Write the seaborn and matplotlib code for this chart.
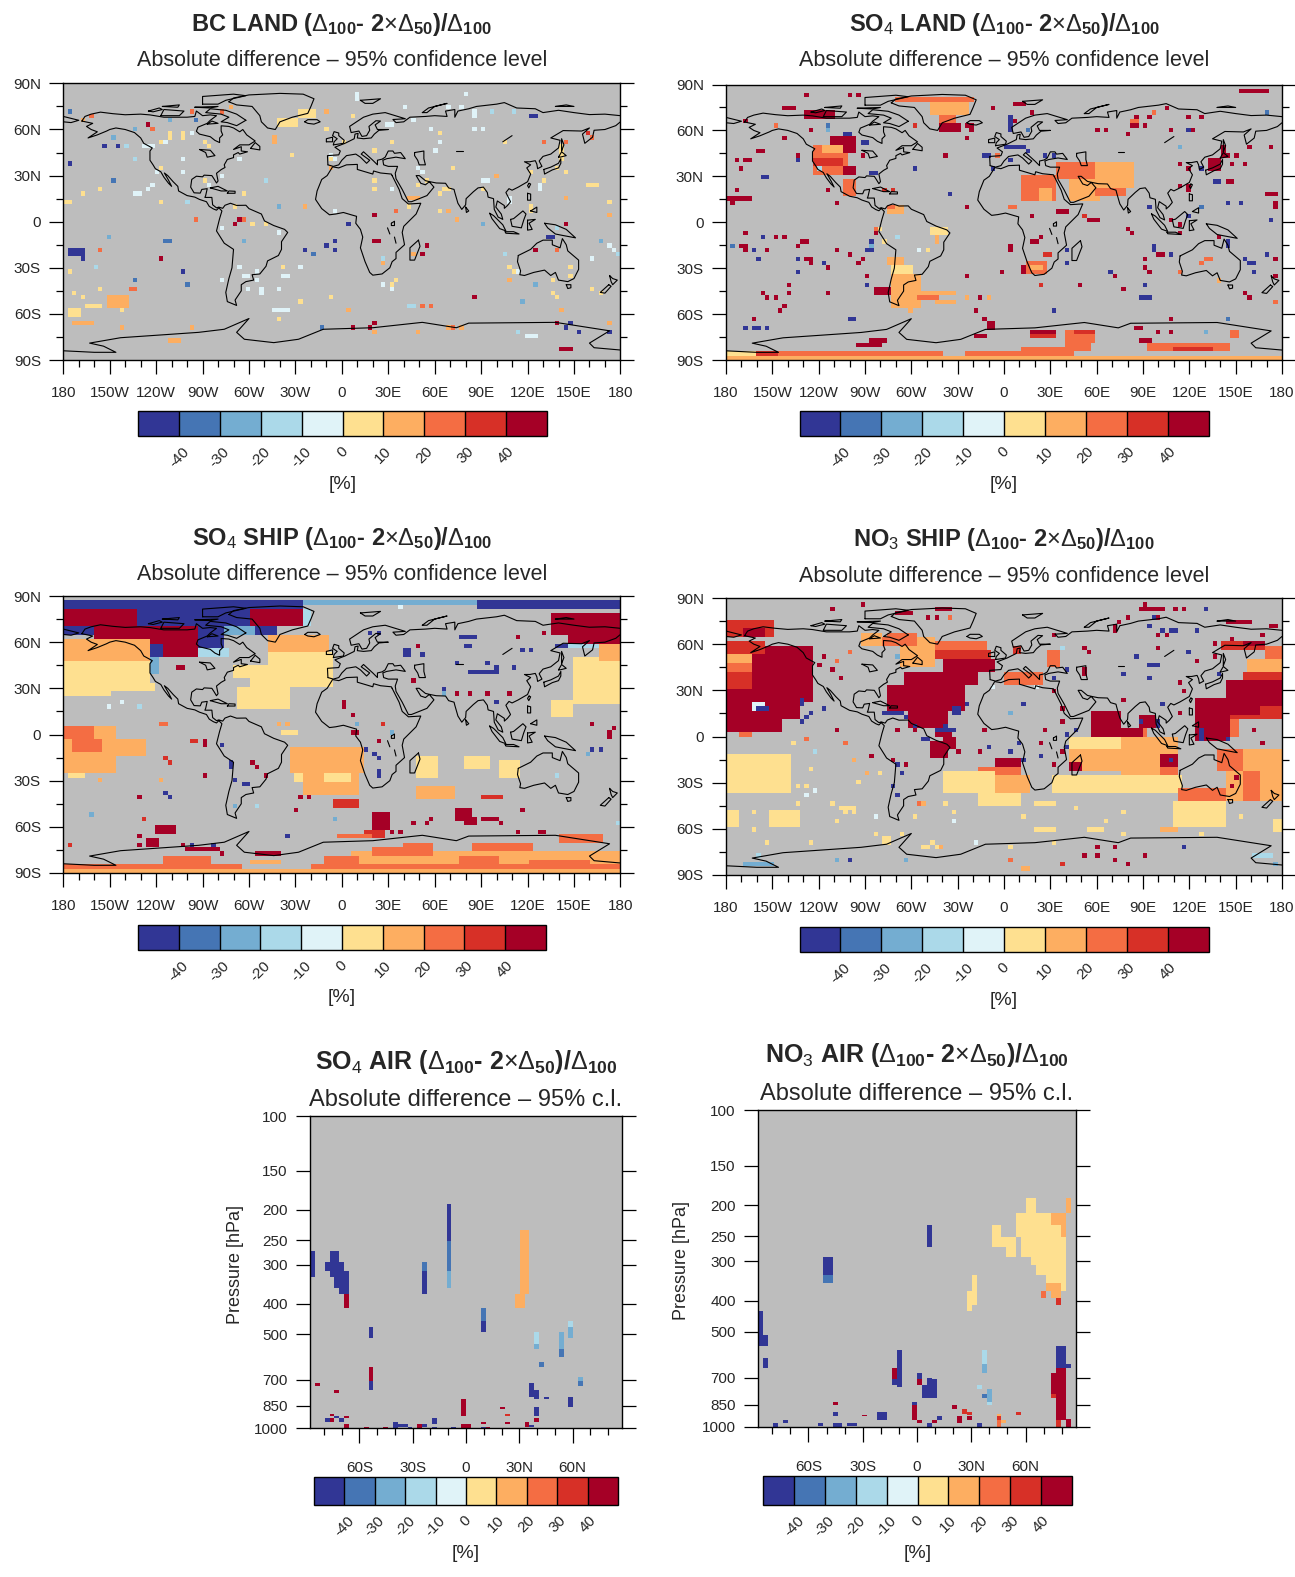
import numpy as np
import pandas as pd
import matplotlib
matplotlib.use("Agg")
import matplotlib.pyplot as plt
import seaborn as sns
from matplotlib.cm import ScalarMappable
from matplotlib.colors import BoundaryNorm, ListedColormap

# percent classes (class midpoints are stored in the cell lists)
level_bounds = [-50, -40, -30, -20, -10, 0, 10, 20, 30, 40, 50]
level_colors = ["#313695", "#4575b4", "#74add1", "#abd9e9", "#e0f3f8",
                "#fee090", "#fdae61", "#f46d43", "#d73027", "#a50026"]
level_ticks = [-40, -30, -20, -10, 0, 10, 20, 30, 40]

# coastlines, (lon, lat)
coast_america = [(-168,65.5),(-166,68.5),(-162,70),(-156,71.3),(-148,70.3),(-140,69.6),(-130,70),(-124,69.5),(-115,68),(-108,68),(-100,68),(-95,68.5),(-94,72),(-90,69),(-85,69.5),(-81,69),(-85,66),(-87,64),(-93,61.5),(-94,58.8),(-92,57),(-85,55.3),(-82,52.9),(-79,51.5),(-79,54.5),(-77,56.5),(-78,59),(-78,62.4),(-73,62),(-70,61),(-66,58.5),(-64,60),(-61.5,56.5),(-56,52.5),(-60,50),(-66,50),(-70,47),(-65,48.8),(-65,46),(-61,45.5),(-66,44),(-67,45),(-70,43.5),(-70,41.7),(-74,40.5),(-76,37),(-75.5,35.3),(-78,33.9),(-81,31.5),(-80,26.5),(-81,25.2),(-82.7,28),(-84,30),(-89,30.3),(-90,29.2),(-94,29.6),(-97,27.5),(-97.7,22.5),(-95.5,18.8),(-91.5,18.6),(-90.5,21),(-87,21.5),(-88,17),(-88.5,15.8),(-84,15.8),(-83.5,11),(-81,9),(-79.5,9.5),(-77,8.7),(-75.5,10.7),(-72,12),(-68,10.6),(-62,10.7),(-60,8.5),(-52,5),(-50,0.5),(-44,-2.5),(-37,-5),(-35,-7),(-39,-13),(-39,-18),(-41,-22),(-48,-25.5),(-49,-29),(-53,-34),(-58,-34.5),(-57,-38),(-62,-39),(-65,-41),(-65,-45),(-69,-51),(-68,-54.5),(-74,-52),(-75,-46),(-73,-37),(-71,-30),(-70,-18),(-76,-14),(-81,-6),(-80,-2),(-79,2),(-77.5,7),(-79.5,9),(-81,7.5),(-83,8.3),(-85.7,10),(-87.5,13),(-92,14.5),(-95,16),(-100,17),(-105.5,20),(-106,23),(-109,26),(-112.5,30),(-114.7,31.7),(-112,27),(-110,23),(-112,25),(-115,29),(-117,32.5),(-120.5,34.5),(-122,37),(-124,40),(-124,46),(-122.5,48),(-128,51),(-130,54.5),(-134,58),(-140,60),(-146,61),(-150,60),(-152,59),(-158,56.5),(-164,54.5),(-158,58.5),(-162,60),(-165,62),(-161,64),(-168,65.5)]
coast_eurasia = [(-9,37),(-9.3,43),(-2,43.5),(-1,46),(-4.5,48.5),(2,51),(4,52),(8,54),(8.5,57),(10.5,57.5),(10,54.5),(14,54),(19,54.5),(21,57),(24,59.5),(30,60),(23,60),(21.5,63),(25,65.5),(22,65.7),(17.5,62),(18,59.5),(16,56),(13,55.5),(11,59),(6,58),(5,62),(14,68),(20,70),(28,71),(41,67),(33,66.5),(35,64.5),(40,65),(44,68),(54,68.5),(60,69),(68,68.5),(67,72),(73,73),(73,68),(75,72),(82,73.5),(87,75),(100,76.5),(105,77.5),(113,74),(125,73.5),(130,71),(140,72.5),(150,71),(160,69.7),(170,70),(180,69)]
coast_asia_east = [(180,65),(177,62.5),(170,60),(163,59.5),(162,55),(157,51),(155.5,57),(160,61),(155,59),(143,59.3),(135,54.5),(141,53),(140,48),(135,44),(130,42.5),(127.5,39.5),(129.3,36),(126.5,34.5),(126,37.5),(125,39.7),(121.5,39),(118,39),(122,37),(119.5,35),(122,31),(120,26),(114,22.5),(110,20.5),(108,21.5),(106,19),(109,13),(107,10.5),(105,8.7),(105,10.5),(102,12.5),(100.5,13.5),(99.5,9.5),(103,5),(104,1.5),(101,3),(98.5,8),(98,15),(94.5,16),(94,19),(91.5,22.5),(88,22),(85,19.5),(80.3,15),(80,11),(77.5,8),(75,12),(73,19),(72.5,21),(69,22),(67,25),(61,25.2),(57,26),(54,26.7),(50,30),(48,30),(51,25),(54,24),(56.5,26),(59.5,22.5),(55,17),(45,13),(43,13),(39,21),(35,28),(34.5,31.5),(36,36),(30,36),(27,37),(26.5,40),(29,41),(35,42),(41,41),(38,45),(34,44.5),(33,46),(30,46),(28,42),(26,40.7),(23,40),(23,37),(20,40),(14,45.5),(12.5,44),(18,40),(16,38),(12,42),(9,44),(3,43),(0,40),(-2,37),(-5.5,36),(-9,37)]
coast_chukchi = [(-180,68.5),(-170,66),(-175,64.5),(-180,65)]
coast_africa = [(32.5,30),(34,27),(37,21),(39,15),(43,11.5),(51,12),(48,5),(40,-3),(39,-7),(40.5,-15),(35,-20),(35,-24),(32.5,-26),(31,-30),(26,-34),(20,-34.8),(18,-33),(15,-26),(12,-17),(13.5,-10),(12,-5),(9,-1),(9.5,3.5),(6,4.5),(1,6),(-4,5),(-8,4.5),(-13,8.5),(-17,14.5),(-16,20),(-13,27.5),(-9.5,30),(-6,35.7),(-2,35),(3,37),(10,37.3),(10,34),(15,32.5),(20,31),(20.5,33),(25,31.7),(32,31),(32.5,30)]
coast_antarctica = [(-180,-84),(-160,-85),(-146,-85),(-154,-81),(-163,-79),(-143,-75.5),(-114,-73.5),(-92.5,-72),(-76,-70),(-60,-63),(-68,-72),(-63,-76.5),(-44,-78.7),(-28,-76.5),(-12,-70),(20,-69),(52,-65.5),(74,-69),(82,-66),(138,-65.5),(173,-71),(160,-79),(163,-82),(180,-83.5)]
coast_islands = [
    [(-73,78),(-68,76),(-58,75),(-53,69),(-52,65),(-48,61),(-43,60),(-40,65),(-32,68),(-22,70.5),(-20,75),(-18,80),(-25,83),(-40,83.5),(-60,82.5),(-70,80.5),(-73,78)],
    [(-62,66),(-68,62.5),(-74,64.5),(-78,65),(-73,68),(-78,70),(-88,71),(-85,73.5),(-75,72.5),(-68,70),(-62,66)],
    [(-90,76.5),(-80,76.5),(-75,79),(-62,82),(-70,83),(-90,81.5),(-90,76.5)],
    [(-117,69),(-105,69),(-102,72),(-115,73),(-117,69)],
    [(-125,72),(-118,74),(-116,73),(-122,71.5),(-125,72)],
    [(-95,74.5),(-80,75),(-85,74),(-95,74.5)],
    [(-116,75),(-105,76),(-106,74.5),(-116,75)],
    [(-87,63.5),(-80,64),(-84,65.5),(-87,63.5)],
    [(-59,47.7),(-53,46.7),(-53,49),(-56,51.5),(-59,47.7)],
    [(-85,22),(-80,23),(-74,20),(-78,20),(-85,22)],
    [(-74,18.5),(-69,18.5),(-69,19.8),(-73,20),(-74,18.5)],
    [(-24,65),(-22,64),(-18,63.5),(-14,65),(-16,66.4),(-22,66.4),(-24,65)],
    [(-5.5,50),(1,51),(1.5,53),(-2,56),(-2,57.7),(-5,58.6),(-6,56),(-3,54),(-5,52),(-5.5,50)],
    [(-10,52),(-6,52),(-6,55),(-10,54),(-10,52)],
    [(47,45),(53,46),(53,41),(54,37),(50,37),(49,40),(47,43),(47,45)],
    [(49.5,-12),(50.5,-16),(47,-25),(44,-25),(44,-17),(49.5,-12)],
    [(80,9.5),(82,7),(80.5,6),(80,9.5)],
    [(95.5,5.5),(98,4),(104,-2),(106,-6),(102,-4.5),(97,2),(95.5,5.5)],
    [(105.5,-6.5),(111,-6.5),(114.5,-8),(106,-7.5),(105.5,-6.5)],
    [(109,1.5),(111,2),(117,7),(119,5),(117.5,1),(116,-4),(110,-3),(109,1.5)],
    [(120,1),(125,1.5),(121,-1),(123,-5),(120,-5.5),(120,1)],
    [(131,-1),(138,-2),(145,-5),(151,-10.5),(143,-9),(138,-8),(133,-4),(131,-1)],
    [(120,18.5),(122,18),(122,14),(120,14),(120,18.5)],
    [(122,7),(126,9.5),(126,6),(122,7)],
    [(121,25),(122,24.5),(120.8,22),(120,23.5),(121,25)],
    [(130.5,34),(135,35.5),(140,38),(141.5,41),(141.5,38),(140,35),(136,33.7),(131,31),(130.5,34)],
    [(140,42),(142,45.5),(145,43),(141,42),(140,42)],
    [(142,46),(142,54),(143.5,50),(142,46)],
    [(114,-22),(113.5,-26),(115.5,-32),(115,-34.5),(118,-35),(124,-33),(131,-31.5),(135,-35),(138,-33),(140,-38),(146,-39),(150,-37),(153,-31),(153,-25),(146,-19),(145,-15),(142.5,-11),(141,-17),(136,-15),(136,-12),(130,-12),(126,-14),(122,-18),(114,-22)],
    [(145,-41),(148,-41),(148,-43),(146,-43.5),(145,-41)],
    [(173,-35),(175,-37),(178,-38),(175,-41),(174,-39),(173,-35)],
    [(172.5,-41),(174,-42),(170,-46.5),(167,-46),(172.5,-41)],
    [(12,79),(25,80),(20,77),(15,77),(12,79)],
    [(52,71),(56,74),(68,77),(60,75),(55,71),(52,71)],
    [(138,75),(145,76),(150,75),(138,75)],
    [(-92,47),(-85,46.5),(-82,43),(-87,42),(-88,45),(-92,47)],
    [(32,-1),(34,0.3),(34,-2.5),(32,-2.5),(32,-1)],
    [(29.5,-4),(31,-8)],[(34,-10),(35,-14)],[(104,52),(110,56)],[(74,46),(78,46)],
]

# BC LAND, significant cells: (lon0, lon1, lat0, lat1, percent), then single cells
bc_land_blocks = [(-128,-120,49,52,-5),(-113,-110,53,59,5),(-104,-100,53,58,5),(-146,-143,47,52,-45),(-46,-42,51,55,15),
    (-29,-18,67.5,72.5,5),(-43,-29,61.5,67.5,5),(27,35,61,64,-5),(-150,-145,26,28,-35),(-134,-129,18,20,-5),(-179,-173,12,14,5),
    (-97,-92,1,3,25),(43,51,14,17,15),(66,71,20,22,5),(91,96,26,28,-5),(106,108,10,16,-5),(121,123,6,12,5),(127,130,18.5,24,-5),
    (141,143,40,52,5),(158,167,23,25,5),(133.5,139,-10.5,-8.5,-45),(165,170,-13,-11,-25),(159,164,-24,-22,-5),(117,127,-74,-72,-5),
    (145,150,-66,-64,-45),(142,150,-82.5,-80.5,45),(19,24,-13,-11,45),(53,55,-18,-14,45),(-6,-3,-20,-17,-45),(-26,-24,-20,-17,-45),
    (-114,-109,-13,-11,-35),(-153,-148,-10.5,-8.5,-25),(-178,-174,-32,-30,5),(-137,-131,-44,-42,25),(-153,-139,-55,-47,15),
    (-167,-154,-57,-53,5),(-178,-168,-62,-57,5),(-173,-160,-66,-64,15),(-44,-35,-57,-55,-5),(-15,-10,-69,-67,-35),(-112,-103,-77,-75,15),
    (-38,-33,-35,-33,-5),(42,47,-55,-53,-15),(-178,-165,-23,-16,-45)]
bc_land_cells = {
    45: [(-124,63),(-65,1.5),(-68,-1),(20,4.5),(146,-1),(126.5,-17.5),(138,-65),(-116,-23),(51,-20),(87,-48),(8,-68),(17,-68),(20,-65)],
    35: [(160,57)],
    25: [(-161,69),(-121,60),(-98,71),(-76,71),(36,7),(-62,1.5),(130,52),(146,52),(163,55),(140,-17.5),(-155,-17.5),(53,-54),(59,-54),(73,-68)],
    15: [(-166,66),(-71,74),(-8.5,71),(-7,35),(-23,10),(70,7),(75,1.5),(101,30),(146,16),(174,4.5),(109,-37),(28,-26),(45,-20),(141,-59),(172,-65),(-141,-68),(3,-59),(22,-73),(50,-73),(-96,-68),(69,-68),(76,-68)],
    5: [(-135,60),(8,68.6),(-8.5,60),(62,57),(31,52),(20,46),(0,52),(-7,42),(-116,52),(-88,52),(-87,48),(-31,43),(-118,35),(-90,27),(-155,21),(-166,18.5),(-116,13),(-62,18.5),(-70,10),(-59,-1),(-48,-1),(-50,-1),(43,10),(62,18.5),(64,7),(20,21),(20,27),(50,24),(56,26),(90,21),(73,35),(132,27),(123,32),(140,35),(144,32.5),(104.5,52),(172,13),(149,-29),(109,-29),(112,-31),(137,-37),(148,-34),(137,-45),(140,-48),(163,-43),(168,-45),(-155,-43),(-172,-45),(-168,-48),(-143,-59),(-39,-29),(-28,-51),(-6,-48),(33,-40),(36,-37),(-42,-62)],
    -5: [(-65,41),(-102,41),(-120,32.5),(-102,32.5),(-78.5,30),(-121,24),(-124,21),(-87,24),(31,21),(48,35),(53,32.5),(60,46),(64,52),(-3,7),(-76,-3.5),(-40,-6),(-7,45),(-3,42),(59,60),(45.6,66),(11,81),(11,84),(81.5,82.5),(42,74),(70,74),(76,74),(84.5,71),(87,68.6),(87,60),(90,60),(174,-15),(176,-17),(-96,57),(-114,52),(113,-31),(-67,-29),(-60,-34),(-56,-31),(-54,-37),(-62,-34),(-76,-37),(-60,-43),(-51,-43),(-51,-46),(-42,-43),(-28,-29),(28,-40),(31,-43)],
    -15: [(-138,49),(-135,41),(-48,27),(-99,13),(-166,-25),(-160,-29),(106,-20),(139,-3.5),(178,-20),(28,-23),(113,-70.5),(98,71),(110,71)],
    -25: [(-149,54),(-110,66),(-42,10),(92.5,-1),(-62,-12),(-135,60),(118,-51),(124,-40)],
    -35: [(-93,66),(-177,71),(-135,-37),(-99,-40),(-17,-20)],
    -45: [(-152,49),(-175,38),(5,-1),(-3,-12),(-8.5,-15),(-166,-23),(-104,-31.5),(121,69),(124,69),(152,-70.5),(174,-73),(146,-68)],
}

# SO4 LAND
so4_land_blocks = [(-69,-21,79,81,25),(-48,-23,70,78,15),(-43,-30,65,70,25),(-43,-29,59,65,45),(-128,-109,68,74,45),(-143,-136,73,76,45),
    (-124,-101,31,50,25),(-118,-104,44,50,15),(-124,-104,36,41,35),(-112,-96,52,56,45),(-103,-95,46,50,45),(-104,-97,31,37,45),
    (-103,-96,16,28,25),(-77,-64,5,10,15),(-77,-70,8,10,25),(-49,-37,-8,-3,5),(-46,-42,-13,-8,15),(-52,-47,-21,-16,5),(-75,-64,-29,-22,15),
    (-72,-58,-35,-29,5),(-73,-53,-55,-35,15),(-53,-32,-47,-44,15),(-56,-42,-50,-47,25),(-45,-30,-54,-51,15),(-83,-73,-47,-42,45),
    (12,35,14,30,25),(22,30,14,22,15),(43,83,22,38,15),(35,59,29,40,25),(43,62,14,22,15),(60,78,16,22,25),(15,29,-34,-25,25),(18,25,-31,-28,15),
    (133,141,33,41,45),(141,143,42,50,45),(153,168,84,86,45),(-21,-11,-75,-72,45),(-12,-7,-69,-66,45),(16,33,-75,-71,35),(18,33,-71,-69,45),
    (38,60,-78,-71,25),(46,58,-72,-69,35),(38,55,-83,-78,25),(10,46,-86,-81,25),(86,97,-79,-75,45),(94,145,-85,-79,25),(110,135,-85,-82,35),
    (146,153,-76,-70,25),(-95,-78,-82,-80,45),(-88,-75,-79,-77,45),(-179,180,-90,-87,15),(-145,-85,-86,-84,25),(-85,-40,-87,-85,25),(-179,-147,-85,-84,35),
    (-25,10,-86,-85,25),(-179,-160,-87,-85,5),(-179,-163,14,16,45)]
so4_land_cells = {
    45: [(-129,82),(-99,82),(-93,82),(-168,66),(-141,55),(-124,60),(-91,43),(-133,43),(-172,40),(-166,40),(-164,40),(-159,46),(-157,46),(-169,35),(-172,21.5),(-177,13),(-107,13),(-113,21.5),(-166,-6.5),(-147,-9),(-141,-9),(-133,-15),(-131,-12),(-129,-12),(-152,-17),(-127,-23),(-124,-23),(-124,-26),(-115,-29),(-107,-17),(-101,-20),(-99,-20),(-91,-23),(-93,-26),(-90,-34),(-155,-45),(-152,-48),(-149,-48),(-138,-42),(-138,-45),(-138,-47),(-113,-45),(-141,-54),(-144,-59),(-163,-62),(-82,-7),(-23,55),(-37,44),(-20,60),(-20,62),(-23,63),(-6,74),(8,66),(6,77),(9,77),(12,77),(19,71),(-23,10),(18,4),(34,8),(37,8),(40,8),(54,2),(57,2),(60,2),(80,-5),(82,-7),(79,-3),(60,60),(67,60),(79,58),(83,63),(85,63),(87,68),(93,68),(90,63),(104.5,74),(107,60),(121,60),(120.5,68),(127,68),(171.5,85),(143,49),(160,49),(174,49),(151.5,43.6),(155,37.6),(149,37.6),(115,37.6),(120,35.5),(144,43.6),(145,27),(148,27),(120.5,24),(120.5,21),(115,24),(169,18),(172,18),(175,18),(177,14),(177,11),(109,2),(115,-1),(115,-6.5),(138,-10),(99.5,-20),(102,-20),(90,-23),(90,-29),(95.5,-32),(73,-34),(76,-43),(48,-40),(5,-16),(5,-18),(21,-12),(19,-12),(24.5,-9),(12,-29),(12,-32),(-0.5,-32),(-23,-34),(-17,-57),(-14,-62),(160,-48),(157,-45),(175,-34),(177,-23),(109,-64.5),(101,-73),(109,-73),(86,-70),(89,-70),(-15,-48),(-170,-15),(-168,-17),(-166,-15),(-168,-15)],
    35: [(-76,20),(-73,20),(-59,63),(23,-40),(29,-20),(27,-20),(52,4)],
    25: [(-147,63),(131,-23),(133,-23),(127,-26),(115,-32),(4,10),(6,10),(-84,-5),(-3,44),(175,-51),(176,-51),(96,71),(83,66),(85,66)],
    15: [(-60,-59),(-9,-48),(-23,-48),(139.5,-37)],
    5: [(-77,-13),(-79,-4)],
    -5: [(-56,-17)],
    -15: [(-68,-9),(-119,35)],
    -25: [(-113,60),(-85,-15),(112.5,49),(132,-73)],
    -35: [(-175,-15),(16,60),(171.5,71),(129,10),(143.5,-64.5),(-115,63)],
    -45: [(-104,58),(-99,58),(-88.5,52),(-91,52),(-133,40),(-156,30),(-154,30),(-163,-17),(-155,-9),(-158,-23),(-133,-23),(-118,-26),(-135,-32),(-90,-40),(-99,-64.5),(-96,-62),(-166,-68),(-163,-68),(-158,-68),(-152,-68),(-87,-12),(-85,-17),(-88,-17),(-34,18),(-59,35),(-87,32),(-82,32),(-12,43.6),(-9,43.6),(-8,35),(3,68),(3,65),(3,62),(3,60),(5,69),(1,49),(4,49),(7,49),(10,49),(12,49),(15,46),(5,40),(28,43.6),(33,43.6),(42,-26),(42,-17),(33,-57),(119,60),(139.5,27),(137,27),(146,13),(152,13),(93,10),(120.5,4),(172,2),(146,-13),(146,-15),(98,-15),(98,-17),(107,-20),(70,-32),(90,-40),(89,-48),(92,-48),(94,-48),(157,-23),(160,-26),(163,-28),(163,-31),(171.5,-20),(127,35.5)],
}

# SO4 SHIP
so4_ship_blocks = [(-179,180,85,88,-35),(-25,88,86,88,-25),(-179,-133,81,86,-45),(-133,-25,79,86,-45),(88,180,81,86,-45),
    (-179,-133,70,81,45),(-159,-92,57,70,45),(-179,-159,64,70,-45),(-133,-76,71,81,-45),(-60,-25,70,81,45),(-76,-60,71,81,-45),(-55,-41,64,70,-45),
    (-76,-55,64,71,-25),(-92,-76,57,71,-45),(-25,-20,70,81,-15),(-135,-114,50,60,-45),(-123,-117,40,50,-25),(-114,-92,50,57,45),(-108,-100,43,46,45),
    (-92,-72,50,57,-15),(134,180,64,78,45),(145,180,60,64,45),(139,155,55,60,-45),(145,168,58,60,-15),(-60,-6,31,46,5),(-68,-33,18,31,5),
    (-49,-6,46,53,5),(-70,-60,36,44,5),(-49,-9,53,66,15),(-179,-124,48,61,15),(-179,-124,33,48,5),(-179,-150,26,33,5),(-150,-120,28,33,5),(150,180,20,50,5),
    (165,180,48,60,15),(134,150,12,23,5),(-179,-146,-25,7,15),(-146,-127,-13,-3,15),(-179,-160,-3,5,25),(-175,-155,-10,-3,25),(-178,-165,-28,-25,5),
    (-33,13,-25,-9,15),(-31,-17,-32,-24,5),(-24,10,-40,-25,15),(-10,5,-30,-26,5),(80,96,-23,-13,5),(48,62,-28,-15,5),(47,72,-42,-34,15),(102,115,-28,-16,5),
    (72,85,-56,-47,45),(80,88,-60,-53,45),(90,102,-57,-53,45),(-5,10,-48,-43,35),(20,30,-62,-52,45),(15,28,-68,-62,35),(-120,-108,-65,-60,45),(-127,-118,-72,-67,45),
    (-100,-80,-74,-72,45),(-55,-38,-78,-75,45),(90,105,-43,-40,35),(-2,20,-68,-65,25),(40,60,-75,-70,25),(85,125,-76,-71,25),(140,170,-69,-65,25),
    (-179,180,-90,-87,15),(-179,-65,-87,-84,25),(-20,180,-87,-84,25),(5,180,-84,-76,15),(20,60,-80,-73,25),(75,100,-85,-80,25),(120,160,-86,-82,25),(-115,-85,-83,-80,25),(-10,10,-84,-80,25),(-60,-40,-84,-82,15),
    (82,100,39,41,-45),(75,86,62,64,-45),(78,84,56,58,-45),(39,46,51,55,-45),(-38,-28,-1,3,5)]
so4_ship_cells = {
    45: [(50,57.6),(113,63),(132,65.6),(140,65.6),(74,27),(84,27),(93,27),(107,27),(47.6,34.4),(1,17),(1,20),(6,13),(163,7.5),(174,2),(177,5),(172.5,-1),(7,2),(9,2),(22.5,-4),(-90,-3),(-90,-6),(-57,-18),(-55,-20),(-90,-26),(-50,-26),(-130,-40),(-27,-42),(-20,-42),(-30,-48),(-132,-65),(-132,-73),(-104,-71),(-77,-76),(47.6,-59),(58,-54),(55.6,-57),(39,-62),(31,-62),(115,-62),(127,-62),(132,-62),(104,-57),(117,-48)],
    35: [(-95,-4),(-98,-4),(28,7.5),(-114,-16),(-111,-18),(-127,-54),(-177,-73)],
    25: [(-116,7.5),(-114,7.5)],
    15: [(-117,-29),(-157,-29),(-42,7.5),(-35,7.5)],
    -5: [(-149.5,18.5),(-143,21.5),(39,82.4)],
    -15: [(-56,-45),(-130,18.5),(138,-26),(178,-57)],
    -25: [(66,27),(158,-12),(9,7),(31,2),(-70,-45),(-163,-51),(-3,-54)],
    -45: [(53,51.6),(74,46),(93,46),(101,43),(110,43),(118,55),(123,55),(65,30),(100.5,21.5),(163,-9),(166,-9),(17,65.6),(23,65.6),(16,-9),(22,-12),(25,-15),(22.5,-24),(22.5,-26),(-76,-6.5),(-72,-18),(-71,-20),(-70,-29),(-60,-32),(-62,-32),(-113,-38),(-111,-40),(-34,-65),(-84,-70.5),(-96,-70.5)],
}

# NO3 SHIP
no3_ship_blocks = [(-179,-125,22,37,45),(-179,-131,11,22,45),(-179,-143,3,11,45),(-163,-125,37,58,45),(-179,-163,32,37,35),(-179,-163,26,32,45),
    (-179,-163,37,42,35),(-179,-163,42,47,25),(-179,-163,47,53,15),(-179,-155,53,63,35),(-179,-150,65,75,35),(-170,-155,65,70,45),(-172,-163,0,2,25),
    (-163,-156,17,22,-5),(-160,-153,17,18.5,-45),(-40,-5,41,52,45),(-64,-16,33,41,45),(-77,-24,18,33,45),(-61,-37,7,18,45),(-51,-8,50,55,35),(-45,-11,55,62,25),
    (-67,-45,45,65,15),(-75,-55,60,68,25),(-85,-72,58,66,25),(144,180,20,37,45),(123,147,-2,25,45),(147,180,11,20,35),(147,165,14,20,45),(147,152,0,11,25),
    (155,180,37,42,35),(157,180,42,50,15),(170,180,50,58,25),(140,170,55,61,35),(155,168,60,63,45),
    (56,75,0,18,45),(88,98,7,15,45),(67,92,-2,6,25),(68,90,1,5,45),(77,112,-25,0,15),(43,77,-8,0,5),(43,77,-23,-8,15),(100,112,-20,-10,45),(100,112,-28,-20,25),
    (32,115,-36,-25,5),(43,50,-23,-18,45),(-5,12,-21,-14,45),(-16,11,-25,-19,25),(-5,16,-30,-25,15),(-40,-5,-36,-22,5),(-5,16,-36,-30,15),(-16,11,-45,-36,5),
    (-179,-139,-36,-10,5),(-179,-172,-59,-48,5),(-151,-131,-60,-49,5),(112,144,-43,-34,25),(109,144,-58,-43,5),(144,180,-43,-8,15),(155,166,-42,-22,25),(139,155,-22,-8,25),
    (0,26,34,43,25),(5,10,54,60,35),(27,37,46,55,25),(-92,-80,60,68,15),(-47,-36,-14,-3,45),(-45,-35,0,6,45),(-40,-30,-8,0,45),(-80,-66,15,17,-45),(-133,-128,20,25,-45),(-33,-27,15,19,-45),(-45,-35,3,6,-45),
    (92,100,45,47,-45),(92,95,37,39,-45),(-69,-58,79,81,45),(-45,-35,82,85,45),(87,104,81,84,45),(69,71,68,73,45),(144,160,72,75,45),
    (-80,-72,-69,-66,5),(-106,-96,-47,-45,5),(20,34,-46,-41,5),(21,34,-62,-59,5),(53,66,-62,-59,5),(101,112,-63,-60,15),(173,180,-63,-53,5),(12,18,-85,-83,15),(161,173,-79,-75,-15),(-170,-150,-84,-81,-25),(127,127,3,3,-45)]
no3_ship_cells = {
    45: [(-112.5,82.5),(-91,86),(-50,77),(-43,77),(81,77),(92,86),(110,83),(116,83),(100,78),(75,74),(173,72),(177,72),(167,67),(148,63),(99,66),(104.5,66),(101,58),(135,61),(135,52),(126,50),(51,59),(53,58),(31,66),(55,54),(51,44),(51,42),(115,35),(118,30),(115,16),(76,24),(39,18),(33,30),(39,9),(28,5),(-14,5),(-68,5),(-59,5),(-107,5),(-85,-12),(-73,-14.5),(-62,-18),(-29,-9),(-15,-9),(33,-18),(37,-9),(25,-4),(163,5),(166,-3),(147,-33),(151,-27),(79,-82),(90,-76),(61,-76),(53,-76),(71,-79),(73,-79),(73,-71),(61,-73),(-118,52),(-120,47),(-110,43),(-105,39)],
    35: [(37,-82)],
    25: [(-104,-3),(-127,-1),(5,-79),(-34,77),(-56,-43),(-100,55),(-108,50)],
    15: [(-96,-15),(-88,-24),(-53,-44),(-42,-72)],
    5: [(-152,-68),(-125,-68),(-83,-62),(-67,-62),(-47,-69),(-48,-73),(-53,-73),(-43,-73),(-163,-60),(-161,-48),(-135,-43),(-112,-44),(-96,-48),(-104,-50),(-107,-55),(-133,-32),(-127,-32),(-124,-20),(-136,-4),(-95,-29),(-81,-25),(-59,-51),(-39,-43),(-31,-48),(13,-51),(77,-62),(65,-54),(77,-50),(47,-47),(129,-62),(152,-51),(32,-69),(3,-71)],
    -5: [(-127,-37),(-121,-35),(-82,-51),(-31,-54),(-17,-70),(-6,33),(21,32)],
    -15: [(-121,-9),(39,58),(-159,-76)],
    -25: [(5,16),(175,-83),(-63.5,-79),(-107,-79),(-68,52)],
    -45: [(-127,12),(-124,16),(-130,10),(-118,18),(-64,14),(-63,12),(-59,8),(-52,0),(-49,0),(-32,5),(-25,22),(-39,8),(-8.5,-6.5),(5,-9),(11,-3.5),(12,-14.5),(14,21),(76,41),(85,52),(120.5,54),(104,69),(107,69),(112,69),(124,69),(93,72),(98,78),(132,82.5),(138,41),(104,21),(88,10),(101,10),(101,6),(127,3),(127,-2),(107,-15),(144,-0.6),(45,5),(40.5,1.5),(42,-6.5),(25,-12),(33,37),(42,43.6),(-68,-19),(-65,-23),(-71,-31),(-68,-37),(-99,-79),(118,-73)],
}

# AIR panels: (lat0, lat1, p0, p1, percent)
so4_air_blocks = [(-87.7,-86,271,330,-45),(-80,-78,292,314,-45),(-78,-72,271,330,-45),(-75,-67,292,354,-45),(-72,-64,314,373,-45),(-67,-64,373,393,-45),(-69,-67,373,412,45),
    (-53,-50,471,515,-45),(-53,-50,659,756,-45),(-53,-50,634,659,45),(-55,-53,659,710,45),(-86,-83,715,735,45),(-75,-72,756,770,45),(-78,-75,900,913,45),(-80,-78,930,955,-45),(-78,-75,930,955,45),
    (-75,-72,913,930,-45),(-72,-69,930,955,-45),(-69,-67,913,930,45),(-69,-67,975,1000,45),(-22,-19,292,314,-35),(-22,-19,314,373,-45),(-8,-5,192,252,-45),(-8,-5,252,312,-35),(-8,-5,312,354,-25),
    (11.6,14,412,454,-35),(11.6,14,454,494,-45),(33.5,39,233,373,15),(31,36,373,412,15),(42,45,494,538,-15),(42,45,538,555,-25),(45,47.5,615,634,-35),(56,58.6,494,555,-25),(56,58.6,555,592,-35),
    (61.5,64.5,454,471,-15),(61.5,64.5,471,515,-25),(67,70,690,710,-25),(67,70,710,735,-35),(39,42,715,793,-45),(42,45,756,810,-45),(47.5,50,793,810,-45),(61.5,64.5,793,854,-45),(42,45,854,913,-45),
    (42,45,930,955,45),(36,39,955,990,45),(39,42,980,990,-45),(0,3,810,913,45),(22,25,854,870,45),(25,28,900,913,35),(25,28,955,975,45),(11,14,955,975,45),(11,14,990,1000,-45),(14,17,993,1000,45),
    (-16.5,-13.5,930,975,-45),(-16.5,-13.5,990,1000,-45),(-25,-22,975,1000,45),(-22,-19,975,990,-45),(-39,-36,955,1000,-45),(-36,-33,975,990,-45),(-33,-30,990,1000,-45),(-56,-53,990,1000,45),(-45,-42,990,1000,45),(-5,-3,990,1000,-45),(0,5,975,1000,45)]
no3_air_blocks = [(-87.6,-86,431,556,-45),(-87.6,-83,513,556,-45),(-86,-84,610,652,-45),(-50,-47,291,332,-45),(-50,-47,332,351,-35),(8.7,11.4,230,270,-45),
    (44.6,50.7,230,270,5),(50.7,59,251,270,5),(53.5,59,270,291,5),(59,64.6,211,251,5),(64.6,70,191,251,5),(70,78.4,211,251,5),(62,67.4,251,291,5),(67.4,87.8,251,308,5),(70,87.8,308,332,5),(75.6,86.7,332,372,5),(78.4,84,230,251,5),
    (78.4,87.3,211,230,15),(84,87.3,230,251,15),(87,87.8,191,211,15),(75.6,84,351,372,15),(78.4,84,372,392,15),(73,75.6,372,392,25),(81,84,392,412,35),
    (30.8,33.6,372,431,5),(33.6,36.9,332,412,5),(39,42.4,574,632,-15),(39,42.4,632,674,-25),(36.3,39.7,733,756,-15),(42,45,756,832,-25),(39,42,790,810,-35),(42,45,832,851,-15),
    (81,86.7,556,652,-45),(78.4,86.7,674,790,45),(81,86.7,652,674,45),(81,86.7,790,950,45),(78.4,81,790,810,35),(81,84,950,1000,35),(86.7,87.8,632,652,-45),(86.7,87.8,940,1000,45),
    (-8,-5,574,752,-45),(-10.7,-8,652,710,45),(-10.7,-8,710,733,-45),(3,6,674,710,-45),(3,6,710,733,45),(6,11.4,733,810,-45),(8.7,11.4,700,733,-45),(11.4,14.2,710,810,-45),
    (0,3,832,851,-45),(0,3,851,950,45),(3,6,950,970,45),(11.4,14.2,950,970,45),(14.2,17,930,950,-45),(8.7,11.4,970,1000,-45),(22.5,25,851,875,45),(28,31,875,910,35),(31,34,898,915,35),(25,28,930,970,45),(31,34,930,950,45),(36,39.7,970,1000,-45),
    (48,50.7,910,930,15),(48,50.7,930,950,35),(48,50.7,950,1000,25),(50.7,53.5,950,970,15),(59,62,898,915,35),(-44.5,-41.7,832,851,45),(-47,-44.5,898,930,-45),(-30,-27,915,930,45),(-19,-16,898,950,-45),(-80,-77,970,1000,-45),(-74,-71,950,970,-45),(-53,-50,970,995,-45),(-44.5,-39,970,1000,-45),(-36,-33,970,995,-45)]

titles = {
    "bc_land": r"BC LAND ($\Delta_{\mathbf{100}}$- 2$\times\Delta_{\mathbf{50}}$)/$\Delta_{\mathbf{100}}$",
    "so4_land": r"SO$_{\mathrm{4}}$ LAND ($\Delta_{\mathbf{100}}$- 2$\times\Delta_{\mathbf{50}}$)/$\Delta_{\mathbf{100}}$",
    "so4_ship": r"SO$_{\mathrm{4}}$ SHIP ($\Delta_{\mathbf{100}}$- 2$\times\Delta_{\mathbf{50}}$)/$\Delta_{\mathbf{100}}$",
    "no3_ship": r"NO$_{\mathrm{3}}$ SHIP ($\Delta_{\mathbf{100}}$- 2$\times\Delta_{\mathbf{50}}$)/$\Delta_{\mathbf{100}}$",
    "so4_air": r"SO$_{\mathrm{4}}$ AIR ($\Delta_{\mathbf{100}}$- 2$\times\Delta_{\mathbf{50}}$)/$\Delta_{\mathbf{100}}$",
    "no3_air": r"NO$_{\mathrm{3}}$ AIR ($\Delta_{\mathbf{100}}$- 2$\times\Delta_{\mathbf{50}}$)/$\Delta_{\mathbf{100}}$",
}
subtitle_map = "Absolute difference – 95% confidence level"
subtitle_air = "Absolute difference – 95% c.l."
lon_labels = ["180", "150W", "120W", "90W", "60W", "30W", "0", "30E", "60E", "90E", "120E", "150E", "180"]
lat_labels = ["90N", "60N", "30N", "0", "30S", "60S", "90S"]
pressure_ticks = [100, 150, 200, 250, 300, 400, 500, 700, 850, 1000]
air_lat_ticks = [-60, -30, 0, 30, 60]
air_lat_labels = ["60S", "30S", "0", "30N", "60N"]

sns.set_style("white")
plt.rcParams["font.family"] = ["Liberation Sans", "DejaVu Sans"]
plt.rcParams["mathtext.fontset"] = "custom"
plt.rcParams["mathtext.rm"] = "Liberation Sans"
plt.rcParams["mathtext.it"] = "Liberation Sans:italic"
plt.rcParams["mathtext.bf"] = "Liberation Sans:bold"
plt.rcParams["mathtext.fallback"] = "stixsans"

W, H = 1295, 1577
fig = plt.figure(figsize=(W / 100, H / 100), dpi=100)
cmap = ListedColormap(level_colors)
cmap.set_bad("#bdbdbd")
norm = BoundaryNorm(level_bounds, cmap.N)
DLON = 2.8125


def add_axes(x0, x1, y0, y1):
    return fig.add_axes([x0 / W, 1 - y1 / H, (x1 - x0) / W, (y1 - y0) / H])


def put_text(x, y, s, **kw):
    fig.text(x / W, 1 - y / H, s, ha=kw.pop("ha", "center"), va=kw.pop("va", "center"), **kw)


def map_grid(blocks, cells):
    grid = np.full((64, 128), np.nan)
    for lon0, lon1, lat0, lat1, val in blocks:
        c0, c1 = round((lon0 + 180) / DLON), round((lon1 + 180) / DLON)
        r0, r1 = round((90 - lat1) / DLON), round((90 - lat0) / DLON)
        grid[r0:max(r1, r0 + 1), c0:max(c1, c0 + 1)] = val
    for val, pts in cells.items():
        for lon, lat in pts:
            r = min(int((90 - lat) / DLON), 63)
            c = min(int((lon + 180) / DLON), 127)
            grid[r, c] = val
    return pd.DataFrame(grid)


def draw_map(blocks, cells, title, rect, title_y, sub_y, cbar_rect):
    x0, x1, y0, y1 = rect
    ax = add_axes(x0, x1, y0, y1)
    sns.heatmap(map_grid(blocks, cells), ax=ax, cmap=cmap, norm=norm, cbar=False,
                xticklabels=False, yticklabels=False)
    ax.set_xlim(-0.4, 128.4)
    ax.set_ylim(64.2, -0.3)
    for line in [coast_america, coast_eurasia, coast_asia_east, coast_chukchi, coast_africa, coast_antarctica] + coast_islands:
        pts = np.array(line)
        ax.plot((pts[:, 0] + 180) / DLON, (90 - pts[:, 1]) / DLON, color="black", lw=0.8)
    # ticks in grid units, axes run from -180..180 and 90..-90
    to_x = lambda v: (np.asarray(v) + 180) / DLON
    to_y = lambda v: (90 - np.asarray(v)) / DLON
    ax.set_xlim(to_x(-180), to_x(180))
    ax.set_ylim(to_y(-90), to_y(90))
    ax.set_xticks(to_x(np.arange(-180, 181, 30)))
    ax.set_xticklabels(lon_labels)
    ax.set_xticks(to_x(np.arange(-180, 181, 10)), minor=True)
    ax.set_yticks(to_y(np.arange(90, -91, -30)))
    ax.set_yticklabels(lat_labels, rotation=0)
    ax.set_yticks(to_y(np.arange(90, -91, -15)), minor=True)
    style_axes(ax)
    put_text((x0 + x1) / 2, title_y, title, fontsize=17, fontweight="bold")
    put_text((x0 + x1) / 2, sub_y, subtitle_map, fontsize=15.5)
    draw_cbar(cbar_rect)


def air_grid(blocks):
    grid = np.full((240, 64), np.nan)
    for lat0, lat1, p0, p1, val in blocks:
        c0, c1 = round((lat0 + 87.86) / DLON), round((lat1 + 87.86) / DLON)
        r0, r1 = round((np.log10(p0) - 2) * 240), round((np.log10(p1) - 2) * 240)
        grid[r0:max(r1, r0 + 1), c0:max(c1, c0 + 1)] = val
    return pd.DataFrame(grid)


def draw_air(blocks, title, rect, title_y, sub_y, cbar_rect, ylab_x, xlab_y):
    x0, x1, y0, y1 = rect
    ax = add_axes(x0, x1, y0, y1)
    sns.heatmap(air_grid(blocks), ax=ax, cmap=cmap, norm=norm, cbar=False,
                xticklabels=False, yticklabels=False)
    to_x = lambda v: (np.asarray(v) + 87.86) / (2 * 87.86) * 64
    to_y = lambda p: (np.log10(p) - 2) * 240
    ax.set_xticks(to_x(air_lat_ticks))
    ax.set_xticklabels(air_lat_labels)
    ax.set_xticks(to_x(np.arange(-80, 81, 10)), minor=True)
    ax.set_yticks(to_y(np.array(pressure_ticks)))
    ax.set_yticklabels([str(p) for p in pressure_ticks], rotation=0)
    style_axes(ax)
    ax.tick_params(axis="x", which="major", length=11, pad=13)
    ax.tick_params(axis="x", which="minor", length=5)
    put_text(ylab_x, (y0 + y1) / 2 - 8, "Pressure [hPa]", fontsize=13, rotation=90)
    put_text((x0 + x1) / 2, title_y, title, fontsize=18, fontweight="bold")
    put_text((x0 + x1) / 2, sub_y, subtitle_air, fontsize=17)
    draw_cbar(cbar_rect)


def style_axes(ax):
    for s in ax.spines.values():
        s.set_visible(True)
        s.set_linewidth(1.0)
        s.set_color("black")
    ax.tick_params(axis="both", which="major", length=10, width=0.9, labelsize=11, color="black",
                   bottom=True, left=True, right=True, top=False, pad=6)
    ax.tick_params(axis="both", which="minor", length=5, width=0.9, color="black",
                   bottom=True, left=True, right=True, top=False)
    ax.tick_params(axis="x", which="major", pad=9)
    ax.tick_params(labelright=False, labeltop=False)


def draw_cbar(rect):
    x0, x1, y0, y1 = rect
    cax = add_axes(x0, x1, y0, y1)
    sm = ScalarMappable(norm=norm, cmap=cmap)
    cb = fig.colorbar(sm, cax=cax, orientation="horizontal", drawedges=True, ticks=level_ticks)
    cb.dividers.set_color("black")
    cb.dividers.set_linewidth(1.0)
    cb.outline.set_edgecolor("black")
    cb.outline.set_linewidth(1.0)
    cax.minorticks_off()
    cax.tick_params(axis="x", length=0, pad=6, labelsize=11)
    cax.set_xticklabels([str(t) for t in level_ticks], rotation=45)
    put_text((x0 + x1) / 2, y1 + 48, "[%]", fontsize=14)


draw_map(bc_land_blocks, bc_land_cells, titles["bc_land"], (63.3, 620.4, 83.4, 360), 25, 61, (138, 547, 411, 436))
draw_map(so4_land_blocks, so4_land_cells, titles["so4_land"], (726, 1282, 84.5, 360), 25, 61, (799.5, 1208.5, 411, 436))
draw_map(so4_ship_blocks, so4_ship_cells, titles["so4_ship"], (63.3, 620.4, 596, 873), 539, 574, (138, 546, 925, 950))
draw_map(no3_ship_blocks, no3_ship_cells, titles["no3_ship"], (726, 1282, 598, 875), 540, 576, (799.5, 1208.5, 927, 952))
draw_air(so4_air_blocks, titles["so4_air"], (310, 622, 1116, 1428), 1062, 1100, (314, 618, 1477, 1505), 235, 1455)
draw_air(no3_air_blocks, titles["no3_air"], (758, 1076, 1110, 1427), 1055, 1094, (763, 1072, 1476, 1505), 682, 1454)

fig.savefig("out.png", dpi=100)
plt.close(fig)
